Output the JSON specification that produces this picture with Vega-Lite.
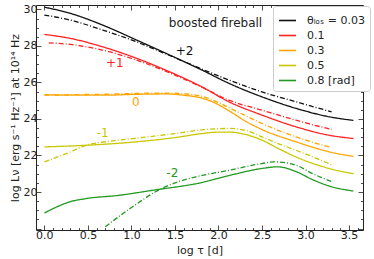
{
  "$schema": "https://vega.github.io/schema/vega-lite/v6.json",
  "width": 327,
  "height": 225,
  "autosize": {"type": "none"},
  "padding": {"left": 36, "top": 5, "right": 11, "bottom": 29},
  "background": "white",
  "config": {
    "view": {"stroke": "#222222", "strokeWidth": 1},
    "font": "DejaVu Sans",
    "axis": {"domain": false, "grid": false, "tickColor": "#222222", "labelColor": "#222222", "titleColor": "#222222", "labelFont": "DejaVu Sans", "titleFont": "DejaVu Sans", "labelFontSize": 11, "titleFontSize": 11, "titleFontWeight": "normal", "tickWidth": 0.8}
  },
  "datasets": {
    "curves": [
      {"theta": "0.03", "style": "solid", "x": 0, "y": 30.12},
      {"theta": "0.03", "style": "solid", "x": 0.3, "y": 29.78},
      {"theta": "0.03", "style": "solid", "x": 0.67, "y": 29.14},
      {"theta": "0.03", "style": "solid", "x": 1.06, "y": 28.32},
      {"theta": "0.03", "style": "solid", "x": 1.44, "y": 27.5},
      {"theta": "0.03", "style": "solid", "x": 1.8, "y": 26.7},
      {"theta": "0.03", "style": "solid", "x": 2.12, "y": 25.95},
      {"theta": "0.03", "style": "solid", "x": 2.5, "y": 25.21},
      {"theta": "0.03", "style": "solid", "x": 2.89, "y": 24.58},
      {"theta": "0.03", "style": "solid", "x": 3.27, "y": 24.12},
      {"theta": "0.03", "style": "solid", "x": 3.55, "y": 23.92},
      {"theta": "0.03", "style": "dashdot", "x": 0, "y": 29.69},
      {"theta": "0.03", "style": "dashdot", "x": 0.3, "y": 29.41},
      {"theta": "0.03", "style": "dashdot", "x": 0.67, "y": 28.87},
      {"theta": "0.03", "style": "dashdot", "x": 1.06, "y": 28.22},
      {"theta": "0.03", "style": "dashdot", "x": 1.3, "y": 27.75},
      {"theta": "0.03", "style": "dashdot", "x": 1.6, "y": 27.15},
      {"theta": "0.03", "style": "dashdot", "x": 1.9, "y": 26.55},
      {"theta": "0.03", "style": "dashdot", "x": 2.12, "y": 26.13},
      {"theta": "0.03", "style": "dashdot", "x": 2.5, "y": 25.48},
      {"theta": "0.03", "style": "dashdot", "x": 2.89, "y": 24.94},
      {"theta": "0.03", "style": "dashdot", "x": 3.3, "y": 24.39},
      {"theta": "0.1", "style": "solid", "x": 0, "y": 28.63},
      {"theta": "0.1", "style": "solid", "x": 0.3, "y": 28.41},
      {"theta": "0.1", "style": "solid", "x": 0.67, "y": 27.95},
      {"theta": "0.1", "style": "solid", "x": 1.06, "y": 27.32},
      {"theta": "0.1", "style": "solid", "x": 1.44, "y": 26.58},
      {"theta": "0.1", "style": "solid", "x": 1.8, "y": 25.78},
      {"theta": "0.1", "style": "solid", "x": 2.12, "y": 24.94},
      {"theta": "0.1", "style": "solid", "x": 2.5, "y": 24.21},
      {"theta": "0.1", "style": "solid", "x": 2.89, "y": 23.57},
      {"theta": "0.1", "style": "solid", "x": 3.27, "y": 23.11},
      {"theta": "0.1", "style": "solid", "x": 3.55, "y": 22.93},
      {"theta": "0.1", "style": "dashdot", "x": 0.05, "y": 28.17},
      {"theta": "0.1", "style": "dashdot", "x": 0.3, "y": 28.08},
      {"theta": "0.1", "style": "dashdot", "x": 0.67, "y": 27.77},
      {"theta": "0.1", "style": "dashdot", "x": 1.06, "y": 27.22},
      {"theta": "0.1", "style": "dashdot", "x": 1.44, "y": 26.52},
      {"theta": "0.1", "style": "dashdot", "x": 1.8, "y": 25.76},
      {"theta": "0.1", "style": "dashdot", "x": 2.12, "y": 25.03},
      {"theta": "0.1", "style": "dashdot", "x": 2.5, "y": 24.48},
      {"theta": "0.1", "style": "dashdot", "x": 2.89, "y": 23.93},
      {"theta": "0.1", "style": "dashdot", "x": 3.3, "y": 23.42},
      {"theta": "0.3", "style": "solid", "x": 0, "y": 25.33},
      {"theta": "0.3", "style": "solid", "x": 0.3, "y": 25.3},
      {"theta": "0.3", "style": "solid", "x": 0.67, "y": 25.3},
      {"theta": "0.3", "style": "solid", "x": 1.06, "y": 25.35},
      {"theta": "0.3", "style": "solid", "x": 1.4, "y": 25.37},
      {"theta": "0.3", "style": "solid", "x": 1.6, "y": 25.3},
      {"theta": "0.3", "style": "solid", "x": 1.8, "y": 25.15},
      {"theta": "0.3", "style": "solid", "x": 1.93, "y": 24.94},
      {"theta": "0.3", "style": "solid", "x": 2.12, "y": 24.45},
      {"theta": "0.3", "style": "solid", "x": 2.31, "y": 23.88},
      {"theta": "0.3", "style": "solid", "x": 2.5, "y": 23.42},
      {"theta": "0.3", "style": "solid", "x": 2.89, "y": 22.75},
      {"theta": "0.3", "style": "solid", "x": 3.27, "y": 22.2},
      {"theta": "0.3", "style": "solid", "x": 3.55, "y": 21.95},
      {"theta": "0.3", "style": "dashdot", "x": 0, "y": 25.3},
      {"theta": "0.3", "style": "dashdot", "x": 0.3, "y": 25.33},
      {"theta": "0.3", "style": "dashdot", "x": 0.67, "y": 25.35},
      {"theta": "0.3", "style": "dashdot", "x": 1.06, "y": 25.4},
      {"theta": "0.3", "style": "dashdot", "x": 1.4, "y": 25.42},
      {"theta": "0.3", "style": "dashdot", "x": 1.6, "y": 25.38},
      {"theta": "0.3", "style": "dashdot", "x": 1.8, "y": 25.25},
      {"theta": "0.3", "style": "dashdot", "x": 2.0, "y": 24.9},
      {"theta": "0.3", "style": "dashdot", "x": 2.12, "y": 24.62},
      {"theta": "0.3", "style": "dashdot", "x": 2.31, "y": 24.18},
      {"theta": "0.3", "style": "dashdot", "x": 2.5, "y": 23.75},
      {"theta": "0.3", "style": "dashdot", "x": 2.89, "y": 23.02},
      {"theta": "0.3", "style": "dashdot", "x": 3.29, "y": 22.44},
      {"theta": "0.5", "style": "solid", "x": 0, "y": 22.47},
      {"theta": "0.5", "style": "solid", "x": 0.48, "y": 22.56},
      {"theta": "0.5", "style": "solid", "x": 1.06, "y": 22.75},
      {"theta": "0.5", "style": "solid", "x": 1.5, "y": 22.98},
      {"theta": "0.5", "style": "solid", "x": 1.81, "y": 23.2},
      {"theta": "0.5", "style": "solid", "x": 2.0, "y": 23.28},
      {"theta": "0.5", "style": "solid", "x": 2.12, "y": 23.28},
      {"theta": "0.5", "style": "solid", "x": 2.31, "y": 23.15},
      {"theta": "0.5", "style": "solid", "x": 2.5, "y": 22.84},
      {"theta": "0.5", "style": "solid", "x": 2.7, "y": 22.35},
      {"theta": "0.5", "style": "solid", "x": 2.89, "y": 21.92},
      {"theta": "0.5", "style": "solid", "x": 3.27, "y": 21.29},
      {"theta": "0.5", "style": "solid", "x": 3.55, "y": 21.0},
      {"theta": "0.5", "style": "dashdot", "x": 0, "y": 21.65},
      {"theta": "0.5", "style": "dashdot", "x": 0.25, "y": 22.1},
      {"theta": "0.5", "style": "dashdot", "x": 0.48, "y": 22.56},
      {"theta": "0.5", "style": "dashdot", "x": 0.75, "y": 22.78},
      {"theta": "0.5", "style": "dashdot", "x": 1.06, "y": 22.95},
      {"theta": "0.5", "style": "dashdot", "x": 1.5, "y": 23.2},
      {"theta": "0.5", "style": "dashdot", "x": 1.81, "y": 23.4},
      {"theta": "0.5", "style": "dashdot", "x": 2.12, "y": 23.48},
      {"theta": "0.5", "style": "dashdot", "x": 2.31, "y": 23.38},
      {"theta": "0.5", "style": "dashdot", "x": 2.5, "y": 23.02},
      {"theta": "0.5", "style": "dashdot", "x": 2.7, "y": 22.62},
      {"theta": "0.5", "style": "dashdot", "x": 2.89, "y": 22.29},
      {"theta": "0.5", "style": "dashdot", "x": 3.31, "y": 21.47},
      {"theta": "0.8", "style": "solid", "x": 0, "y": 18.85},
      {"theta": "0.8", "style": "solid", "x": 0.15, "y": 19.2},
      {"theta": "0.8", "style": "solid", "x": 0.29, "y": 19.46},
      {"theta": "0.8", "style": "solid", "x": 0.48, "y": 19.64},
      {"theta": "0.8", "style": "solid", "x": 0.86, "y": 19.82},
      {"theta": "0.8", "style": "solid", "x": 1.25, "y": 20.1},
      {"theta": "0.8", "style": "solid", "x": 1.81, "y": 20.52},
      {"theta": "0.8", "style": "solid", "x": 2.12, "y": 20.9},
      {"theta": "0.8", "style": "solid", "x": 2.5, "y": 21.29},
      {"theta": "0.8", "style": "solid", "x": 2.68, "y": 21.38},
      {"theta": "0.8", "style": "solid", "x": 2.89, "y": 21.12},
      {"theta": "0.8", "style": "solid", "x": 3.08, "y": 20.68},
      {"theta": "0.8", "style": "solid", "x": 3.27, "y": 20.33},
      {"theta": "0.8", "style": "solid", "x": 3.55, "y": 20.05},
      {"theta": "0.8", "style": "dashdot", "x": 0.7, "y": 18.1},
      {"theta": "0.8", "style": "dashdot", "x": 1.0, "y": 19.15},
      {"theta": "0.8", "style": "dashdot", "x": 1.33, "y": 20.15},
      {"theta": "0.8", "style": "dashdot", "x": 1.5, "y": 20.5},
      {"theta": "0.8", "style": "dashdot", "x": 1.74, "y": 20.83},
      {"theta": "0.8", "style": "dashdot", "x": 2.12, "y": 21.19},
      {"theta": "0.8", "style": "dashdot", "x": 2.5, "y": 21.56},
      {"theta": "0.8", "style": "dashdot", "x": 2.64, "y": 21.65},
      {"theta": "0.8", "style": "dashdot", "x": 2.89, "y": 21.47},
      {"theta": "0.8", "style": "dashdot", "x": 3.08, "y": 21.01},
      {"theta": "0.8", "style": "dashdot", "x": 3.31, "y": 20.55}
    ],
    "labels": [
      {"theta": "0.03", "text": "+2", "x": 1.61, "y": 27.72},
      {"theta": "0.1", "text": "+1", "x": 0.81, "y": 27.04},
      {"theta": "0.3", "text": "0", "x": 1.05, "y": 24.94},
      {"theta": "0.5", "text": "-1", "x": 0.67, "y": 23.24},
      {"theta": "0.8", "text": "-2", "x": 1.47, "y": 21.05}
    ],
    "title": [
      {"text": "boosted fireball", "x": 1.43, "y": 29.23}
    ]
  },
  "resolve": {"axis": {"x": "independent", "y": "independent"}},
  "layer": [
    {
      "data": {"name": "curves"},
      "mark": {"type": "line", "interpolate": "monotone", "strokeWidth": 1.3},
      "encoding": {
        "x": {"field": "x", "type": "quantitative",
          "scale": {"domain": [-0.096, 3.66], "zero": false, "nice": false},
          "axis": {"orient": "bottom", "title": "log τ [d]", "values": [0,0.1,0.2,0.3,0.4,0.5,0.6,0.7,0.8,0.9,1,1.1,1.2,1.3,1.4,1.5,1.6,1.7,1.8,1.9,2,2.1,2.2,2.3,2.4,2.5,2.6,2.7,2.8,2.9,3,3.1,3.2,3.3,3.4,3.5,3.6],
            "labelExpr": "abs(datum.value*2 - round(datum.value*2)) < 0.01 ? format(datum.value, '.1f') : ''",
            "tickSize": {"condition": {"test": "abs(datum.value*2 - round(datum.value*2)) < 0.01", "value": -5}, "value": -2.5},
            "labelPadding": 4, "titlePadding": 2, "labelFlush": false, "labelOverlap": false}},
        "y": {"field": "y", "type": "quantitative",
          "scale": {"domain": [17.92, 30.24], "zero": false, "nice": false},
          "axis": {"orient": "left", "title": "log Lν [erg s⁻¹ Hz⁻¹] at 10¹⁴ Hz", "values": [18,18.5,19,19.5,20,20.5,21,21.5,22,22.5,23,23.5,24,24.5,25,25.5,26,26.5,27,27.5,28,28.5,29,29.5,30],
            "labelExpr": "(datum.value > 19 && abs(datum.value/2 - round(datum.value/2)) < 0.01) ? format(datum.value, 'd') : ''",
            "tickSize": {"condition": {"test": "abs(datum.value/2 - round(datum.value/2)) < 0.01", "value": -5}, "value": -2.5},
            "labelPadding": 4, "titlePadding": 3, "labelOverlap": false}},
        "color": {"field": "theta", "type": "nominal",
          "scale": {"domain": ["0.03", "0.1", "0.3", "0.5", "0.8"], "range": ["#111111", "#ff2222", "#ffa500", "#c8c800", "#229922"]},
          "legend": {"orient": "none", "legendX": 237, "legendY": 1, "title": null,
            "labelExpr": "datum.label == '0.03' ? 'θₗₒₛ = 0.03' : (datum.label == '0.8' ? '0.8 [rad]' : datum.label)",
            "symbolType": "stroke", "symbolSize": 289, "symbolStrokeWidth": 1.6, "labelFontSize": 11, "labelFont": "DejaVu Sans", "labelColor": "#222222",
            "fillColor": "white", "strokeColor": "#cccccc", "padding": 5, "cornerRadius": 3, "rowPadding": -2, "labelOffset": 10}},
        "strokeDash": {"field": "style", "type": "nominal",
          "scale": {"domain": ["solid", "dashdot"], "range": [[1, 0], [5, 2, 1, 2]]}, "legend": null},
        "detail": {"field": "style"}
      }
    },
    {
      "data": {"name": "labels"},
      "mark": {"type": "text", "fontSize": 12, "font": "DejaVu Sans"},
      "encoding": {
        "x": {"field": "x", "type": "quantitative",
          "scale": {"domain": [-0.096, 3.66], "zero": false, "nice": false},
          "axis": {"orient": "top", "title": null, "labels": false, "values": [0,0.1,0.2,0.3,0.4,0.5,0.6,0.7,0.8,0.9,1,1.1,1.2,1.3,1.4,1.5,1.6,1.7,1.8,1.9,2,2.1,2.2,2.3,2.4,2.5,2.6,2.7,2.8,2.9,3,3.1,3.2,3.3,3.4,3.5,3.6],
            "tickSize": {"condition": {"test": "abs(datum.value*2 - round(datum.value*2)) < 0.01", "value": -5}, "value": -2.5}}},
        "y": {"field": "y", "type": "quantitative",
          "scale": {"domain": [17.92, 30.24], "zero": false, "nice": false},
          "axis": {"orient": "right", "title": null, "labels": false, "values": [18,18.5,19,19.5,20,20.5,21,21.5,22,22.5,23,23.5,24,24.5,25,25.5,26,26.5,27,27.5,28,28.5,29,29.5,30],
            "tickSize": {"condition": {"test": "abs(datum.value/2 - round(datum.value/2)) < 0.01", "value": -5}, "value": -2.5}}},
        "text": {"field": "text"},
        "color": {"field": "theta", "type": "nominal", "legend": null}
      }
    },
    {
      "data": {"name": "title"},
      "mark": {"type": "text", "fontSize": 12, "font": "DejaVu Sans", "align": "left", "color": "#222222"},
      "encoding": {
        "x": {"field": "x", "type": "quantitative", "scale": {"domain": [-0.096, 3.66], "zero": false, "nice": false}, "axis": null},
        "y": {"field": "y", "type": "quantitative", "scale": {"domain": [17.92, 30.24], "zero": false, "nice": false}, "axis": null},
        "text": {"field": "text"}
      }
    }
  ]
}
